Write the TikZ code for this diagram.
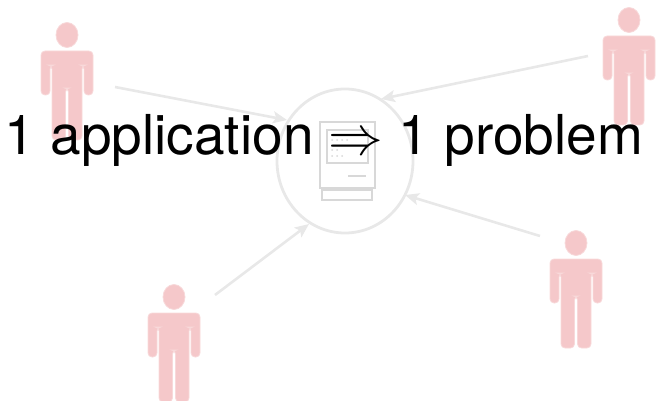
\documentclass[tikz,border=0pt]{standalone}
\usepackage{fontspec}
\setmainfont{TeX Gyre Heros}
\usetikzlibrary{shapes.geometric, arrows.meta}
\definecolor{personcolor}{HTML}{f5c8ca}
\definecolor{linkcolor}{HTML}{e8e8e8}
\definecolor{maccolor}{HTML}{d8d8d8}
\tikzset{
    person/.pic = {
        \fill [personcolor, draw = personcolor!70!white, line width = 0.8pt] (0, 0) ellipse [x radius = 11, y radius = 12.5];
        \fill [personcolor, draw = personcolor!70!white, line width = 0.8pt, rounded corners = 4pt]
            (-26, 16) -- (26, 16) -- (26, 60) -- (17, 60) -- (17, 30) -- (15, 30) -- (15, 105)
            -- (1.5, 105) -- (1.5, 53) -- (-1.5, 53) -- (-1.5, 105) -- (-15, 105) -- (-15, 30)
            -- (-17, 30) -- (-17, 60) -- (-26, 60) -- cycle;
    },
    link/.style = {draw = linkcolor, line width = 2.6pt, -{Stealth[length = 14pt, width = 12pt, inset = 3pt]}}
}

\begin{document}
\begin{tikzpicture}[x = 1pt, y = -1pt]
        \useasboundingbox (0, 0) rectangle (659, 401);

        % People
        \pic at (67, 35) {person};
        \pic at (629, 20) {person};
        \pic at (576, 243) {person};
        \pic at (174, 297) {person};

        % Computer
        \node [draw = linkcolor, line width = 2.8pt, ellipse, minimum width = 136pt, minimum height = 144pt, inner sep = 0pt] (host) at (345, 161) {};
        \node [draw = maccolor, line width = 2pt, minimum width = 55pt, minimum height = 66pt, inner sep = 0pt] (case) at (347, 155) {};
        \node [draw = maccolor, line width = 2pt, minimum width = 50pt, minimum height = 10pt, inner sep = 0pt, below = 0pt] (foot) at (case.south) {};
        \node [draw = maccolor, line width = 2pt, minimum width = 41pt, minimum height = 33pt, inner sep = 0pt] (screen) at (347.5, 146.5) {};
        \coordinate (slota) at (348, 176);
        \coordinate (slotb) at (366, 176);
        \draw [maccolor, line width = 1.4pt] (slota) -- (slotb);
        \foreach \x in {332, 337, 342, 347} {
            \fill [maccolor] (\x, 140) circle [radius = 1];
        }
        \foreach \x in {332, 337} {
            \fill [maccolor] (\x, 150) circle [radius = 1];
        }
        \foreach \x in {332, 337, 342} {
            \fill [maccolor] (\x, 156) circle [radius = 1];
        }

        % Lines
        \coordinate (p) at (115, 87);
        \coordinate (q) at (588, 56);
        \coordinate (r) at (540, 236);
        \coordinate (s) at (215, 295);
        \coordinate (pend) at (287, 120);
        \coordinate (qend) at (381, 99);
        \coordinate (rend) at (405, 195);
        \coordinate (send) at (309, 224);
        \draw [link] (p) -- (pend);
        \draw [link] (q) -- (qend);
        \draw [link] (r) -- (rend);
        \draw [link] (s) -- (send);

        % Title
        \node [anchor = base, inner sep = 0pt, font = \fontsize{55}{60}\selectfont] (title) at (324, 155) {1 application \scalebox{2.2}{$\Rightarrow$} 1 problem};

    \end{tikzpicture}
\end{document}
